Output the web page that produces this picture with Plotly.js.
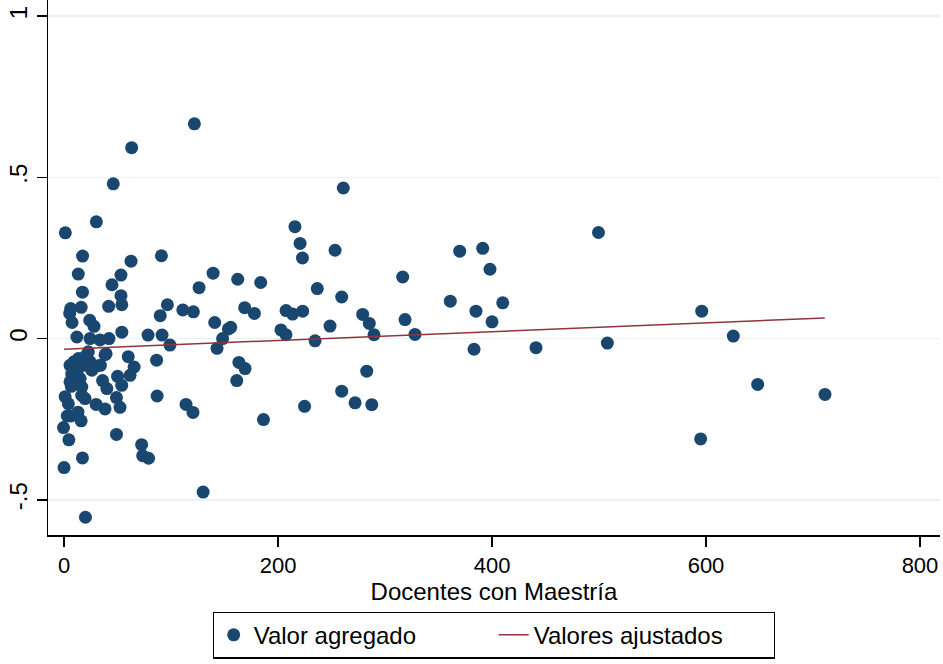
<!DOCTYPE html>
<html>
<head>
<meta charset="utf-8">
<script src="https://cdn.plot.ly/plotly-3.0.1.min.js"></script>
<style>html,body{margin:0;padding:0;background:#fff;}#chart{width:943px;height:664px;}</style>
</head>
<body>
<div id="chart"></div>
<script>
// Docentes con Maestría (x) and Valor agregado (y)
const docentes = [
  121.8, 63.2, 46, 30.2, 1.2, 215.8, 220.6, 222.8, 261, 253.3,
  316.5, 499.5, 369.8, 391.3, 398.1, 236.7, 259.5, 223, 279.1, 285.3,
  289.7, 248.6, 318.7, 328, 361, 385, 410, 400, 234.6, 383.2,
  441.1, 507.8, 282.9, 259.5, 272, 287.6, 224.8, 596, 625.5, 648.3,
  711.2, 595, 186.4, 207.5, 213.6, 202.7, 207.4, 162.3, 183.8, 139.3,
  126.2, 168.8, 177.9, 111, 120.9, 96.6, 89.9, 91, 140.8, 155.8,
  153.6, 148.2, 143, 163.4, 169.2, 161.4, 87, 114, 120.5, 130,
  86.5, 78.5, 91.6, 99, 72.5, 73.5, 79, 20, 0, 17.2,
  4.5, 49, -0.5, 16, 3, 6.5, 13, 30, 38.3, 52.3,
  49, 1, 16.5, 4, 40, 16.6, 6.8, 50, 53.9, 61.7,
  65.5, 60, 38.3, 34, 36, 21, 5.6, 7.2, 12, 18,
  24.3, 30.5, 26, 19.6, 9.3, 15, 13.4, 22.7, 5.6, 19.6,
  6.2, 5.3, 7.5, 12, 16, 24, 28, 24.3, 33.6, 42,
  39.3, 17.3, 62.6, 13.3, 53.2, 44.8, 17.2, 53.2, 54, 41.7,
  54
];
const valorAgregado = [
  0.666, 0.592, 0.48, 0.362, 0.328, 0.347, 0.295, 0.25, 0.467, 0.274,
  0.191, 0.329, 0.271, 0.28, 0.215, 0.155, 0.129, 0.085, 0.075, 0.047,
  0.012, 0.039, 0.059, 0.013, 0.116, 0.085, 0.111, 0.052, -0.007, -0.033,
  -0.028, -0.014, -0.101, -0.163, -0.199, -0.205, -0.21, 0.085, 0.008, -0.142,
  -0.173, -0.311, -0.251, 0.087, 0.076, 0.027, 0.012, 0.184, 0.174, 0.203,
  0.158, 0.096, 0.078, 0.089, 0.083, 0.105, 0.071, 0.257, 0.05, 0.035,
  0.03, 0.0, -0.03, -0.074, -0.093, -0.13, -0.178, -0.204, -0.229, -0.476,
  -0.067, 0.011, 0.011, -0.02, -0.329, -0.363, -0.371, -0.554, -0.4, -0.37,
  -0.314, -0.297, -0.276, -0.255, -0.24, -0.24, -0.228, -0.204, -0.218, -0.213,
  -0.183, -0.18, -0.176, -0.202, -0.155, -0.15, -0.148, -0.117, -0.145, -0.114,
  -0.088, -0.056, -0.05, -0.083, -0.13, -0.052, -0.083, -0.11, -0.104, -0.083,
  -0.072, -0.085, -0.098, -0.058, -0.072, -0.124, -0.062, -0.041, -0.134, -0.186,
  0.093, 0.078, 0.05, 0.005, 0.097, 0.057, 0.038, 0.0, -0.004, 0.0,
  -0.047, 0.256, 0.24, 0.2, 0.197, 0.167, 0.144, 0.133, 0.105, 0.1,
  0.02
];
// Fitted line (Valores ajustados) endpoints
const ajusteX = [0, 711];
const ajusteY = [-0.033, 0.064];
const xTicks = [0, 200, 400, 600, 800];
const yTicks = [-0.5, 0, 0.5, 1];
const yTickText = ["-.5", "0", ".5", "1"];

const font = "Liberation Sans, Arial, sans-serif";
const data = [
  {
    type: "scatter", mode: "markers", name: "Valor agregado",
    x: docentes, y: valorAgregado,
    marker: {color: "#1a476f", size: 13, line: {width: 0}}
  },
  {
    type: "scatter", mode: "lines", name: "Valores ajustados",
    x: ajusteX, y: ajusteY,
    line: {color: "#90353b", width: 1.5}
  }
];
const layout = {
  width: 943, height: 664,
  paper_bgcolor: "#ffffff", plot_bgcolor: "#ffffff",
  margin: {l: 48, r: 3, t: 0, b: 129},
  font: {family: font, color: "#000", size: 22},
  showlegend: true,
  legend: {
    orientation: "h", x: 0.5, xanchor: "center", y: -0.143, yanchor: "top",
    bordercolor: "#000", borderwidth: 1.2, font: {size: 24, family: font},
    entrywidth: 235, tracegroupgap: 0
  },
  xaxis: {
    range: [-15, 818.7], tickvals: xTicks, ticktext: xTicks.map(String),
    showgrid: false, zeroline: false, showline: true, linecolor: "#000", linewidth: 1.5,
    ticks: "outside", ticklen: 10, tickcolor: "#000", tickwidth: 1.5,
    tickfont: {size: 22, family: font},
    title: {text: "Docentes con Maestría", font: {size: 24, family: font}, standoff: 4}
  },
  yaxis: {
    range: [-0.609, 1.05], tickvals: yTicks, ticktext: yTickText, tickangle: -90,
    showgrid: true, gridcolor: "#eaf2f3", gridwidth: 1.5,
    zeroline: false, showline: true, linecolor: "#000", linewidth: 1.5,
    ticks: "outside", ticklen: 10, tickcolor: "#000", tickwidth: 1.5,
    tickfont: {size: 24, family: font}
  }
};
Plotly.newPlot("chart", data, layout, {displayModeBar: false, staticPlot: true});
</script>
</body>
</html>
